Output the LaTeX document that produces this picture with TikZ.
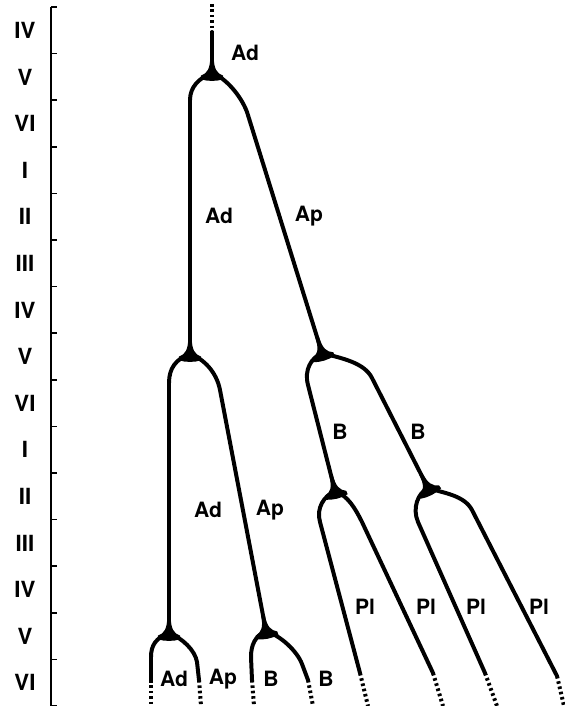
\documentclass[tikz,border=0pt]{standalone}
\usepackage{fontspec}
\setmainfont{TeX Gyre Heros}

\begin{document}
\begin{tikzpicture}[x=0.03cm, y=-0.03cm,
  every node/.style={font=\bfseries\fontsize{18}{18}\selectfont},
  phase/.style={font=\bfseries\fontsize{19}{19}\selectfont},
  axis/.style={line width=1.3pt},
  branch/.style={line width=3.4pt, line cap=round},
  stub/.style={line width=3.4pt, dash pattern=on 2.2pt off 2.4pt},
  pics/blob/.style={code={
    \fill (-1.8,-16) .. controls (-1.8,-4) and (-5,0.5) .. (-11,2.6) -- (-11.5,6.2)
      .. controls (-4,8.5) and (4,8.5) .. (11.5,6.2) -- (11,2.6)
      .. controls (5,0.5) and (1.8,-4) .. (1.8,-16) -- cycle;}}]
	\useasboundingbox (0,0) rectangle (564,706);
	% time axis
	\draw[axis] (51,7) -- (51,706);
	\foreach \k in {0,...,15} \draw[axis] (51,7+46.6*\k) -- ++(6,0);
	\foreach \lab [count=\i] in {IV,V,VI,I,II,III,IV,V,VI,I,II,III,IV,V,VI}
		\node[phase] (ph\i) at (25,7+46.6*\i-23.3) {\lab};
	% junctions and bends
	\coordinate (top) at (212,4);
	\coordinate (topc) at (212,32);
	\coordinate (jA) at (212,73);
	\coordinate (aL) at (190,100);
	\coordinate (aR) at (247,112);
	\coordinate (jB) at (190,354);
	\coordinate (jC) at (322,353);
	\coordinate (bL) at (169,383);
	\coordinate (bR) at (220,390);
	\coordinate (cL) at (308,385);
	\coordinate (cR) at (372,378);
	\coordinate (jD) at (169,633);
	\coordinate (jE) at (266,631);
	\coordinate (jF) at (335,491);
	\coordinate (jG) at (428,488);
	\coordinate (dL) at (151,657);
	\coordinate (dR) at (197,662);
	\coordinate (eL) at (251,657);
	\coordinate (eR) at (302,664);
	\coordinate (fL) at (320,522);
	\coordinate (fR) at (362,522);
	\coordinate (gL) at (418,522);
	\coordinate (gR) at (472,510);
	% free ends (solid / dotted)
	\coordinate (dLe) at (151,680); \coordinate (dLd) at (151,706);
	\coordinate (dRe) at (199,680); \coordinate (dRd) at (201,706);
	\coordinate (eLe) at (252,680); \coordinate (eLd) at (254,706);
	\coordinate (eRe) at (308,680); \coordinate (eRd) at (313,706);
	\coordinate (fLe) at (360,673); \coordinate (fLd) at (368,706);
	\coordinate (fRe) at (433,673); \coordinate (fRd) at (443,706);
	\coordinate (gLe) at (485,673); \coordinate (gLd) at (497,706);
	\coordinate (gRe) at (557,676); \coordinate (gRd) at (564,706);
	% tree
	\draw[stub] (top) -- (topc);
	\draw[branch] (topc) -- (jA);
	\draw[branch] (jA) .. controls +(-13,5) and +(0,-13) .. (aL) -- (jB);
	\draw[branch] (jA) .. controls +(14,5) and +(-6,-16) .. (aR) -- (jC);
	\draw[branch] (jB) .. controls +(-14,5) and +(0,-15) .. (bL) -- (jD);
	\draw[branch] (jB) .. controls +(14,5) and +(-3.5,-18) .. (bR) -- (jE);
	\draw[branch] (jC) .. controls +(-11,5) and +(-4,-15) .. (cL) -- (jF);
	\draw[branch] (jC) .. controls +(18,5) and +(-8,-16) .. (cR) -- (jG);
	\draw[branch] (jD) .. controls +(-13,5) and +(0,-12) .. (dL) -- (dLe);
	\draw[branch] (jD) .. controls +(13,5) and +(-2,-12) .. (dR) -- (dRe);
	\draw[branch] (jE) .. controls +(-11,5) and +(0,-12) .. (eL) -- (eLe);
	\draw[branch] (jE) .. controls +(15,5) and +(-5,-13) .. (eR) -- (eRe);
	\draw[branch] (jF) .. controls +(-11,5) and +(-4,-14) .. (fL) -- (fLe);
	\draw[branch] (jF) .. controls +(13,5) and +(-7,-14) .. (fR) -- (fRe);
	\draw[branch] (jG) .. controls +(-10,5) and +(-6,-14) .. (gL) -- (gLe);
	\draw[branch] (jG) .. controls +(15,5) and +(-8,-15) .. (gR) -- (gRe);
	\foreach \e in {dL,dR,eL,eR,fL,fR,gL,gR} \draw[stub] (\e e) -- (\e d);
	\foreach \j/\r in {jA/0,jB/0,jC/17,jD/0,jE/11,jF/14,jG/27} \pic[rotate=\r] at (\j) {blob};
	% branch labels
	\node (ad0) at (245,53) {Ad};
	\node (ad1) at (219,216) {Ad};
	\node (ap1) at (309,216) {Ap};
	\node (b1) at (340,432) {B};
	\node (b2) at (418,432) {B};
	\node (ad2) at (208,510) {Ad};
	\node (ap2) at (270,510) {Ap};
	\node (pl1) at (365,607) {Pl};
	\node (pl2) at (426,607) {Pl};
	\node (pl3) at (476,607) {Pl};
	\node (pl4) at (539,607) {Pl};
	\node (ad3) at (174,679) {Ad};
	\node (ap3) at (223,679) {Ap};
	\node (b3) at (271,679) {B};
	\node (b4) at (326,679) {B};
\end{tikzpicture}
\end{document}
